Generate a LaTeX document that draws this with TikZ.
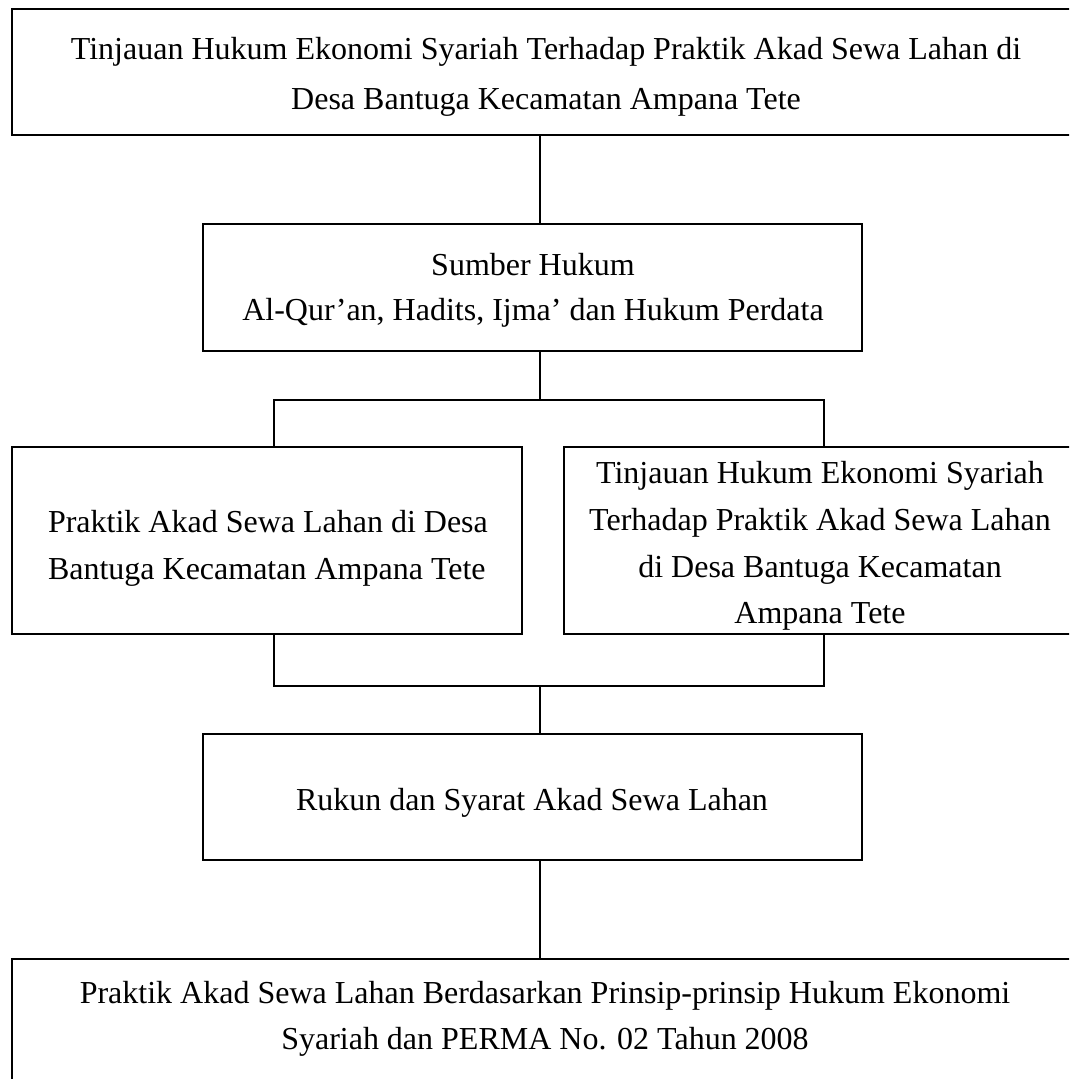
\documentclass[tikz,border=0pt]{standalone}
\usepackage{fontspec}
\setmainfont{Liberation Serif}
\begin{document}
\begin{tikzpicture}[x=1pt,y=-1pt,
  box/.style={draw=black, line width=1.5pt, inner sep=0pt, outer sep=0pt, rectangle},
  txt/.style={inner sep=0pt, outer sep=0pt, align=center, anchor=north},
  conn/.style={draw=black, line width=1.5pt}]
\useasboundingbox (0,0) rectangle (1069,1079);
\fill[white] (0,0) rectangle (1069,1079);
\clip (0,0) rectangle (1069,1079);
% boxes
\node[box, minimum width=1068pt, minimum height=126pt] (top) at (546,72) {};
\node[box, minimum width=659pt, minimum height=127pt] (src) at (532.5,287.5) {};
\node[box, minimum width=510pt, minimum height=187pt] (bl) at (267,540.5) {};
\node[box, minimum width=512pt, minimum height=187pt] (br) at (820,540.5) {};
\node[box, minimum width=659pt, minimum height=126pt] (rukun) at (532.5,797) {};
\node[box, minimum width=1068pt, minimum height=128pt] (bot) at (546,1023) {};
% texts
\node[txt, font=\fontsize{32}{50}\selectfont] (ttop) at (546,37.5)
  {Tinjauan Hukum Ekonomi Syariah Terhadap Praktik Akad Sewa Lahan di\\Desa Bantuga Kecamatan Ampana Tete};
\node[txt, font=\fontsize{32}{45}\selectfont] (tsrc) at (533,253)
  {Sumber Hukum\\Al-Qur’an, Hadits, Ijma’ dan Hukum Perdata};
\node[txt, align=left, anchor=north west, font=\fontsize{32}{47}\selectfont] (tbl) at (48,510)
  {Praktik Akad Sewa Lahan di Desa\\Bantuga Kecamatan Ampana Tete};
\node[txt, font=\fontsize{32}{46.7}\selectfont] (tbr) at (820,461.5)
  {Tinjauan Hukum Ekonomi Syariah\\Terhadap Praktik Akad Sewa Lahan\\di Desa Bantuga Kecamatan\\Ampana Tete};
\node[txt, font=\fontsize{32}{46}\selectfont] (truk) at (532,788)
  {Rukun dan Syarat Akad Sewa Lahan};
\node[txt, font=\fontsize{32}{46.5}\selectfont] (tbot) at (545,981)
  {Praktik Akad Sewa Lahan Berdasarkan Prinsip-prinsip Hukum Ekonomi\\Syariah dan PERMA No. 02 Tahun 2008};
% helper coordinates
\coordinate (sp) at (540,0);
\coordinate (xl) at (274,0);
\coordinate (xr) at (824,0);
\coordinate (jA) at (540,400);
\coordinate (jB) at (540,686);
% connectors
\draw[conn] (top.south -| sp) -- (src.north -| sp);
\draw[conn] (src.south -| sp) -- (jA);
\draw[conn] (bl.north -| xl) |- (jA) -| (br.north -| xr);
\draw[conn] (bl.south -| xl) |- (jB) -| (br.south -| xr);
\draw[conn] (jB) -- (rukun.north -| sp);
\draw[conn] (rukun.south -| sp) -- (bot.north -| sp);
\end{tikzpicture}
\end{document}
